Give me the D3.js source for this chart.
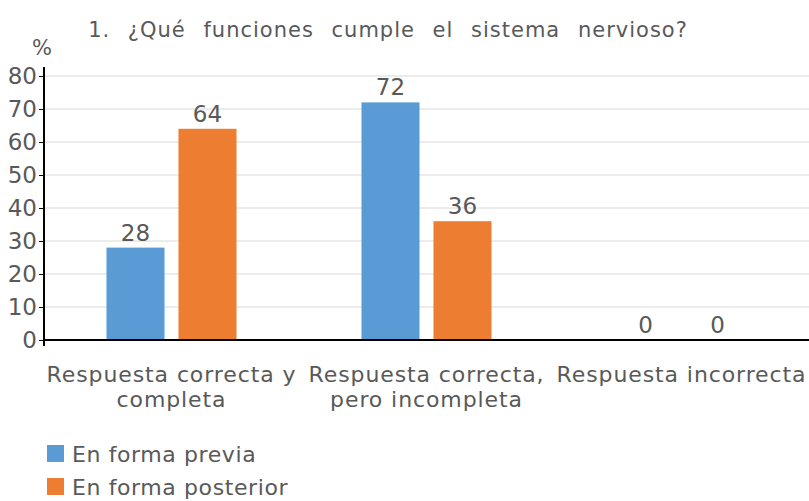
<!DOCTYPE html>
<html>
<head>
<meta charset="utf-8">
<script src="https://cdn.jsdelivr.net/npm/d3@7"></script>
<style>
  body { margin: 0; background: #fff; }
  svg text { font-family: "DejaVu Sans", Verdana, sans-serif; fill: #595959; }
</style>
</head>
<body>
<div id="chart"></div>
<script>
// Data
const categories = [
  ["Respuesta correcta y", "completa"],
  ["Respuesta correcta,", "pero incompleta"],
  ["Respuesta incorrecta"]
];
const seriesNames = ["En forma previa", "En forma posterior"];
const previa = [28, 72, 0];
const posterior = [64, 36, 0];
const yTicks = [0, 10, 20, 30, 40, 50, 60, 70, 80];
const colors = ["#5B9BD5", "#ED7D31"];

// Dimensions
const width = 809, height = 501;
const margins = { top: 76, bottom: 161, left: 44, right: 0 };
const plotW = width - margins.left - margins.right;
const plotH = height - margins.top - margins.bottom;

const svg = d3.select("#chart").append("svg")
  .attr("width", width)
  .attr("height", height);

// Title
svg.append("text")
  .attr("x", 388).attr("y", 37)
  .attr("text-anchor", "middle")
  .style("font-size", "21px")
  .style("letter-spacing", "1px")
  .style("word-spacing", "10px")
  .text("1. ¿Qué funciones cumple el sistema nervioso?");

svg.append("text")
  .attr("x", 42).attr("y", 55)
  .attr("text-anchor", "middle")
  .style("font-size", "21px")
  .text("%");

const g = svg.append("g")
  .attr("transform", "translate(" + margins.left + "," + margins.top + ")");

// Axis
const x0 = d3.scaleBand().domain(d3.range(categories.length)).range([0, plotW]);
const x1 = d3.scaleBand().domain([0, 1]).range([0, x0.bandwidth()])
  .paddingInner(0.194).paddingOuter(0.868);
const y = d3.scaleLinear().domain([0, 80]).range([plotH, 0]);

// gridlines
g.append("g")
  .selectAll("line")
  .data(yTicks.slice(1))
  .join("line")
  .attr("x1", 0).attr("x2", plotW)
  .attr("y1", d => y(d)).attr("y2", d => y(d))
  .attr("stroke", "#d9d9d9")
  .attr("stroke-width", 1);

// bars
const series = [previa, posterior];
const groups = g.append("g")
  .selectAll("g")
  .data(categories.map((c, i) => i))
  .join("g")
  .attr("transform", i => "translate(" + x0(i) + ",0)");

groups.selectAll("rect")
  .data(i => series.map((s, k) => ({ k, v: s[i] })))
  .join("rect")
  .attr("x", d => x1(d.k))
  .attr("width", x1.bandwidth())
  .attr("y", d => y(d.v))
  .attr("height", d => plotH - y(d.v))
  .attr("fill", d => colors[d.k]);

groups.selectAll("text.val")
  .data(i => series.map((s, k) => ({ k, v: s[i] })))
  .join("text")
  .attr("class", "val")
  .attr("x", d => x1(d.k) + x1.bandwidth() / 2)
  .attr("y", d => y(d.v) - 7)
  .attr("text-anchor", "middle")
  .style("font-size", "23px")
  .text(d => d.v);

// y axis
const yAxis = g.append("g")
  .call(d3.axisLeft(y).tickValues(yTicks).tickSize(5).tickPadding(2));
yAxis.select(".domain").attr("stroke", "#000").attr("stroke-width", 2)
  .attr("d", "M0," + (-9) + "V" + (plotH + 6));
yAxis.selectAll(".tick line").attr("stroke", "#000");
yAxis.selectAll(".tick text")
  .style("font-size", "23px")
  .style("font-family", "'DejaVu Sans', Verdana, sans-serif")
  .attr("fill", "#595959");

// x axis
g.append("line")
  .attr("x1", 0).attr("x2", plotW)
  .attr("y1", plotH).attr("y2", plotH)
  .attr("stroke", "#000").attr("stroke-width", 2);

const xl = g.append("g").selectAll("text")
  .data(categories)
  .join("text")
  .attr("x", (d, i) => x0(i) + x0.bandwidth() / 2)
  .attr("y", plotH + 42)
  .attr("text-anchor", "middle")
  .style("font-size", "22px")
  .style("letter-spacing", "0.9px");
xl.selectAll("tspan")
  .data(d => d)
  .join("tspan")
  .attr("x", function () { return d3.select(this.parentNode).attr("x"); })
  .attr("dy", (d, j) => j === 0 ? 0 : 25)
  .text(d => d);

// legend
const legend = svg.append("g")
  .attr("transform", "translate(47,445)");
const items = legend.selectAll("g")
  .data(seriesNames)
  .join("g")
  .attr("transform", (d, i) => "translate(0," + i * 33 + ")");
items.append("rect")
  .attr("width", 17).attr("height", 17)
  .attr("fill", (d, i) => colors[i]);
items.append("text")
  .attr("x", 25).attr("y", 17)
  .style("font-size", "22px")
  .style("letter-spacing", "0.6px")
  .text(d => d);
</script>
</body>
</html>
